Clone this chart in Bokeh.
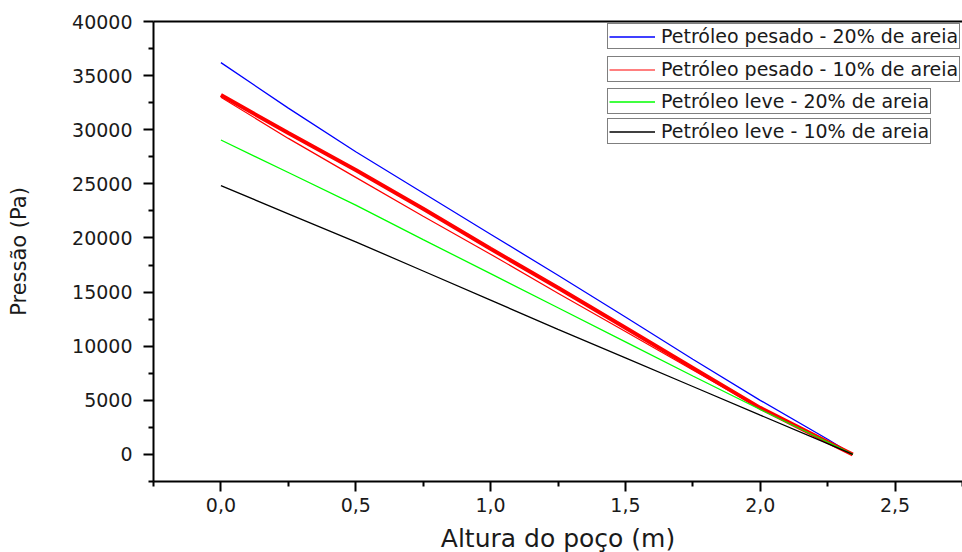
from bokeh.plotting import figure
from bokeh.models import (FixedTicker, CustomJSTickFormatter, Legend, LegendItem,
                          Range1d, LinearAxis)
from bokeh.embed import file_html
from bokeh.resources import INLINE

# ---- data ----
altura = [0.0, 0.25, 0.5, 0.75, 1.0, 1.25, 1.5, 1.75, 2.0, 2.25, 2.343]
pesado_20 = [36200, 32000, 27970, 24150, 20350, 16550, 12700, 8800, 5000, 1400, 0]
pesado_10 = [33200, 29700, 26280, 22700, 19000, 15400, 11700, 8000, 4300, 1150, 0]
pesado_10_b = [33000, 29200, 25600, 22000, 18500, 14900, 11350, 7800, 4250, 1150, 0]
leve_20 = [29050, 26050, 23040, 19850, 16700, 13550, 10400, 7250, 4150, 1150, 0]
leve_10 = [24830, 22235, 19640, 16950, 14255, 11560, 8920, 6275, 3630, 1000, 0]

labels = ["Petróleo pesado - 20% de areia", "Petróleo pesado - 10% de areia",
          "Petróleo leve - 20% de areia", "Petróleo leve - 10% de areia"]
colors = ["#0000ff", "#ff0000", "#00ff00", "#000000"]

x_ticks = [0.0, 0.5, 1.0, 1.5, 2.0, 2.5]
x_minor = [-0.25, 0.25, 0.75, 1.25, 1.75, 2.25, 2.75]
y_ticks = [0, 5000, 10000, 15000, 20000, 25000, 30000, 35000, 40000]
y_minor = [-2500, 2500, 7500, 12500, 17500, 22500, 27500, 32500, 37500]

FONT = "DejaVu Sans"
TXT = "#1a1a1a"

p = figure(frame_width=809, frame_height=460,
           min_border_left=153, min_border_right=0, min_border_top=21, min_border_bottom=71,
           x_range=Range1d(-0.25, 2.75), y_range=Range1d(-2500, 40000),
           output_backend="svg", toolbar_location=None)
p.grid.visible = False
p.outline_line_color = None
p.background_fill_color = "white"
p.border_fill_color = "white"

xax = p.below[0]
yax = p.left[0]

# top frame line (plain axis without ticks or labels)
top = LinearAxis(ticker=FixedTicker(ticks=[]), axis_line_width=2, axis_line_color="black",
                 major_tick_out=0, major_tick_in=0, minor_tick_out=0, minor_tick_in=0,
                 major_label_text_font_size="0px")
p.add_layout(top, "above")

r_blue = p.line(altura, pesado_20, line_color=colors[0], line_width=1.3)
p.line(altura, pesado_10, line_color=colors[1], line_width=4)
r_red = p.line(altura, pesado_10_b, line_color=colors[1], line_width=1.2)
r_green = p.line(altura, leve_20, line_color=colors[2], line_width=1.3)
r_black = p.line(altura, leve_10, line_color=colors[3], line_width=1.3)

legend_renderers = [r_blue, r_red, r_green, r_black]

# axes
for ax in (xax, yax):
    ax.axis_line_width = 2
    ax.axis_line_color = "black"
    ax.major_tick_line_width = 2
    ax.minor_tick_line_width = 2
    ax.major_tick_out = 10
    ax.major_tick_in = 0
    ax.minor_tick_out = 5
    ax.minor_tick_in = 0
    ax.major_label_text_font = FONT
    ax.major_label_text_font_size = "19px"
    ax.major_label_text_color = TXT
    ax.axis_label_text_font = FONT
    ax.axis_label_text_font_style = "normal"
    ax.axis_label_text_color = TXT

xax.ticker = FixedTicker(ticks=x_ticks, minor_ticks=x_minor)
yax.ticker = FixedTicker(ticks=y_ticks, minor_ticks=y_minor)
xax.formatter = CustomJSTickFormatter(code="return tick.toFixed(1).replace('.', ',');")
yax.formatter = CustomJSTickFormatter(code="return tick.toFixed(0);")
xax.major_label_standoff = 6
yax.major_label_standoff = 11
xax.axis_label = "Altura do poço (m)"
xax.axis_label_text_font_size = "25px"
xax.axis_label_standoff = 9
yax.axis_label = "Pressão (Pa)"
yax.axis_label_text_font_size = "21px"
yax.axis_label_standoff = 38

# four separate legend boxes
legend_pos = [(454, 432), (454, 399), (454, 367), (454, 337)]
for lab, rend, pos in zip(labels, legend_renderers, legend_pos):
    lg = Legend(items=[LegendItem(label=lab, renderers=[rend])], location=pos)
    lg.border_line_color = "black"
    lg.border_line_width = 1.5
    lg.background_fill_color = "white"
    lg.background_fill_alpha = 1
    lg.padding = 1
    lg.margin = 0
    lg.spacing = 0
    lg.glyph_width = 46
    lg.glyph_height = 19
    lg.label_standoff = 6
    lg.label_text_font = FONT
    lg.label_text_font_size = "19px"
    lg.label_text_color = TXT
    p.add_layout(lg, "center")

open("out.html", "w").write(file_html(p, INLINE))
